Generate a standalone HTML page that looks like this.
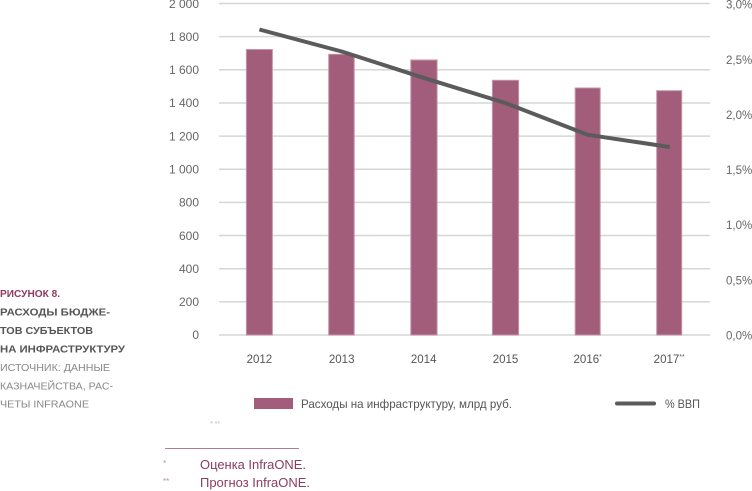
<!DOCTYPE html>
<html>
<head>
<meta charset="utf-8">
<style>
html,body{margin:0;padding:0;background:#fff;}
svg{display:block;}
text{font-family:"Liberation Sans","DejaVu Sans",sans-serif;}
</style>
</head>
<body>
<svg width="752" height="491" viewBox="0 0 752 491" xmlns="http://www.w3.org/2000/svg">
  <!-- gridlines -->
  <g stroke="#d6d6d6" stroke-width="1.5">
    <line x1="219" y1="3.5" x2="710" y2="3.5"/>
    <line x1="219" y1="36.65" x2="710" y2="36.65"/>
    <line x1="219" y1="69.8" x2="710" y2="69.8"/>
    <line x1="219" y1="102.95" x2="710" y2="102.95"/>
    <line x1="219" y1="136.1" x2="710" y2="136.1"/>
    <line x1="219" y1="169.25" x2="710" y2="169.25"/>
    <line x1="219" y1="202.4" x2="710" y2="202.4"/>
    <line x1="219" y1="235.55" x2="710" y2="235.55"/>
    <line x1="219" y1="268.7" x2="710" y2="268.7"/>
    <line x1="219" y1="301.85" x2="710" y2="301.85"/>
    <line x1="219" y1="335" x2="710" y2="335"/>
  </g>

  <!-- left axis labels -->
  <g font-size="12" fill="#666" text-anchor="end">
    <text x="199" y="7.8">2 000</text>
    <text x="199" y="40.9">1 800</text>
    <text x="199" y="74">1 600</text>
    <text x="199" y="107.2">1 400</text>
    <text x="199" y="140.3">1 200</text>
    <text x="199" y="173.5">1 000</text>
    <text x="199" y="206.6">800</text>
    <text x="199" y="239.8">600</text>
    <text x="199" y="272.9">400</text>
    <text x="199" y="306">200</text>
    <text x="199" y="339.2">0</text>
  </g>

  <!-- right axis labels -->
  <g font-size="11.5" fill="#666">
    <text x="726" y="8.6">3,0%</text>
    <text x="726" y="63.8">2,5%</text>
    <text x="726" y="119">2,0%</text>
    <text x="726" y="174.1">1,5%</text>
    <text x="726" y="229.2">1,0%</text>
    <text x="726" y="284.4">0,5%</text>
    <text x="726" y="339.4">0,0%</text>
  </g>

  <!-- bars -->
  <g fill="#a25d7a" stroke="#c495a9" stroke-width="1">
    <rect x="246.4" y="49.5" width="26" height="285.5"/>
    <rect x="328.7" y="54.3" width="25.5" height="280.7"/>
    <rect x="410.8" y="60" width="26.3" height="275"/>
    <rect x="492.4" y="80.3" width="26.2" height="254.7"/>
    <rect x="575.2" y="88" width="25" height="247"/>
    <rect x="656.7" y="90.7" width="25" height="244.3"/>
  </g>

  <!-- % GDP line -->
  <polyline points="259.4,29.5 341.7,51.5 423.5,77.8 505.4,103 587.8,134.8 669.8,147"
    fill="none" stroke="#5b5b5b" stroke-width="4" stroke-linejoin="round" stroke-linecap="butt"/>

  <!-- x labels -->
  <g font-size="11.5" fill="#555" text-anchor="middle">
    <text x="259.4" y="363">2012</text>
    <text x="341.7" y="363">2013</text>
    <text x="423.7" y="363">2014</text>
    <text x="505.5" y="363">2015</text>
    <text x="587.7" y="363">2016<tspan font-size="7" dy="-4">*</tspan></text>
    <text x="669.2" y="363">2017<tspan font-size="7" dy="-4">**</tspan></text>
  </g>

  <!-- legend -->
  <rect x="254" y="398" width="39" height="11" fill="#a25d7a"/>
  <text x="301" y="408" font-size="12" fill="#555" textLength="211" lengthAdjust="spacingAndGlyphs">Расходы на инфраструктуру, млрд руб.</text>
  <line x1="617" y1="403.5" x2="654" y2="403.5" stroke="#5b5b5b" stroke-width="4" stroke-linecap="round"/>
  <text x="665" y="408" font-size="12" fill="#555" textLength="35" lengthAdjust="spacingAndGlyphs">% ВВП</text>

  <!-- tiny marks -->
  <text x="210" y="426" font-size="7" fill="#bbb">*  **</text>

  <!-- footnote separator -->
  <line x1="165" y1="448.5" x2="299" y2="448.5" stroke="#b07c95" stroke-width="1"/>

  <!-- footnotes -->
  <text x="163" y="466" font-size="8" fill="#b58ca1">*</text>
  <text x="200" y="469" font-size="13" fill="#8a3d60" textLength="106" lengthAdjust="spacingAndGlyphs">Оценка InfraONE.</text>
  <text x="163" y="484" font-size="8" fill="#b58ca1">**</text>
  <text x="200" y="487" font-size="13" fill="#8a3d60" textLength="110" lengthAdjust="spacingAndGlyphs">Прогноз InfraONE.</text>

  <!-- left caption -->
  <g font-size="10.5">
    <text x="0" y="297" font-weight="bold" fill="#8c3d61" textLength="60" lengthAdjust="spacingAndGlyphs">РИСУНОК 8.</text>
    <text x="0" y="315.5" font-weight="bold" fill="#555" textLength="110" lengthAdjust="spacingAndGlyphs">РАСХОДЫ БЮДЖЕ-</text>
    <text x="0" y="334" font-weight="bold" fill="#555" textLength="93" lengthAdjust="spacingAndGlyphs">ТОВ СУБЪЕКТОВ</text>
    <text x="0" y="352.5" font-weight="bold" fill="#555" textLength="125" lengthAdjust="spacingAndGlyphs">НА ИНФРАСТРУКТУРУ</text>
    <text x="0" y="371" fill="#888" textLength="110" lengthAdjust="spacingAndGlyphs">ИСТОЧНИК: ДАННЫЕ</text>
    <text x="0" y="389.3" fill="#888" textLength="113" lengthAdjust="spacingAndGlyphs">КАЗНАЧЕЙСТВА, РАС-</text>
    <text x="0" y="407.6" fill="#888" textLength="89" lengthAdjust="spacingAndGlyphs">ЧЕТЫ INFRAONE</text>
  </g>
</svg>
</body>
</html>
